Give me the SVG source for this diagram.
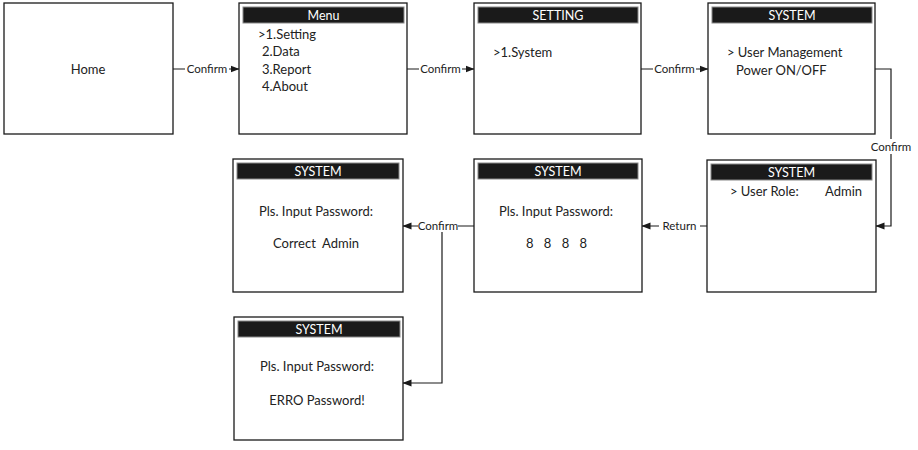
<svg xmlns="http://www.w3.org/2000/svg" width="918" height="450" viewBox="0 0 918 450">
<defs>
<marker id="ah" markerWidth="9" markerHeight="8" refX="8.5" refY="4" orient="auto" markerUnits="userSpaceOnUse">
<path d="M0,0.5 L9,4 L0,7.5 Z" fill="#1a1a1a"/>
</marker>
<style>
.box{fill:#fff;stroke:#1a1a1a;stroke-width:1.3}
.hdr{fill:#1a1a1a;stroke:#888;stroke-width:1}
.ht{font-family:Lato,"Liberation Sans",sans-serif;font-size:12.5px;fill:#fff;text-anchor:middle}
.t{font-family:Lato,"Liberation Sans",sans-serif;font-size:13px;fill:#222}
.c{text-anchor:middle}
.lbl{font-family:Lato,"Liberation Sans",sans-serif;font-size:11.5px;fill:#222;text-anchor:middle}
.ln{fill:none;stroke:#1a1a1a;stroke-width:1.2}
</style>
</defs>
<rect width="918" height="450" fill="#fff"/>
<g id="connectors">
<path class="ln" d="M173,69 H185 M229,69 H239" marker-end="url(#ah)"/>
<path class="ln" d="M407,69 H419 M462,69 H474" marker-end="url(#ah)"/>
<path class="ln" d="M641,69 H653 M696,69 H708" marker-end="url(#ah)"/>
<path class="ln" d="M875,69 H891 V139 M891,154 V226 H876" marker-end="url(#ah)"/>
<path class="ln" d="M707,226 H700 M659,226 H642" marker-end="url(#ah)"/>
<path class="ln" d="M474,226 H458 M418,226 H403" marker-end="url(#ah)"/>
<path class="ln" d="M442,232 V383 H403" marker-end="url(#ah)"/>
<text class="lbl" x="207" y="73">Confirm</text>
<text class="lbl" x="440.5" y="73">Confirm</text>
<text class="lbl" x="674.5" y="73">Confirm</text>
<text class="lbl" x="891" y="151">Confirm</text>
<text class="lbl" x="679.5" y="230">Return</text>
<text class="lbl" x="438" y="230">Confirm</text>
</g>
<g id="home">
<rect class="box" x="4" y="3" width="169" height="131"/>
<text class="t c" x="88" y="73.5">Home</text>
</g>
<g id="menu">
<rect class="box" x="239" y="3" width="168" height="131"/>
<rect class="hdr" x="243" y="7" width="161" height="16"/>
<text class="ht" x="323.5" y="19.5">Menu</text>
<text class="t" x="258" y="38.5">&gt;1.Setting</text>
<text class="t" x="262" y="56">2.Data</text>
<text class="t" x="262" y="73.5">3.Report</text>
<text class="t" x="262" y="90.5">4.About</text>
</g>
<g id="setting">
<rect class="box" x="474" y="3" width="167" height="131"/>
<rect class="hdr" x="478" y="7" width="160" height="16"/>
<text class="ht" x="558" y="19.5">SETTING</text>
<text class="t" x="493" y="56.5">&gt;1.System</text>
</g>
<g id="system1">
<rect class="box" x="708" y="3" width="167" height="131"/>
<rect class="hdr" x="712" y="7" width="160" height="16"/>
<text class="ht" x="792" y="19.5">SYSTEM</text>
<text class="t" x="727" y="56.5">&gt; User Management</text>
<text class="t" x="736" y="75">Power ON/OFF</text>
</g>
<g id="system-role">
<rect class="box" x="707" y="160" width="169" height="132"/>
<rect class="hdr" x="711" y="164" width="161" height="16"/>
<text class="ht" x="791.5" y="176.5">SYSTEM</text>
<text class="t" x="730" y="195.5">&gt; User Role:</text>
<text class="t" x="825" y="195.5">Admin</text>
</g>
<g id="system-pwd">
<rect class="box" x="474" y="159" width="168" height="133"/>
<rect class="hdr" x="478" y="163" width="160" height="16"/>
<text class="ht" x="558" y="175.5">SYSTEM</text>
<text class="t c" x="556" y="215.5">Pls. Input Password:</text>
<text class="t c" x="556.5" y="247.5" word-spacing="7">8 8 8 8</text>
</g>
<g id="system-correct">
<rect class="box" x="233" y="159" width="170" height="133"/>
<rect class="hdr" x="237" y="163" width="162" height="16"/>
<text class="ht" x="318" y="175.5">SYSTEM</text>
<text class="t c" x="316" y="215.5">Pls. Input Password:</text>
<text class="t c" x="316" y="247.5" xml:space="preserve">Correct  Admin</text>
</g>
<g id="system-error">
<rect class="box" x="234" y="317" width="169" height="123"/>
<rect class="hdr" x="238" y="321" width="162" height="16"/>
<text class="ht" x="319" y="333.5">SYSTEM</text>
<text class="t c" x="317" y="371">Pls. Input Password:</text>
<text class="t c" x="317" y="404.5">ERRO Password!</text>
</g>
</svg>
